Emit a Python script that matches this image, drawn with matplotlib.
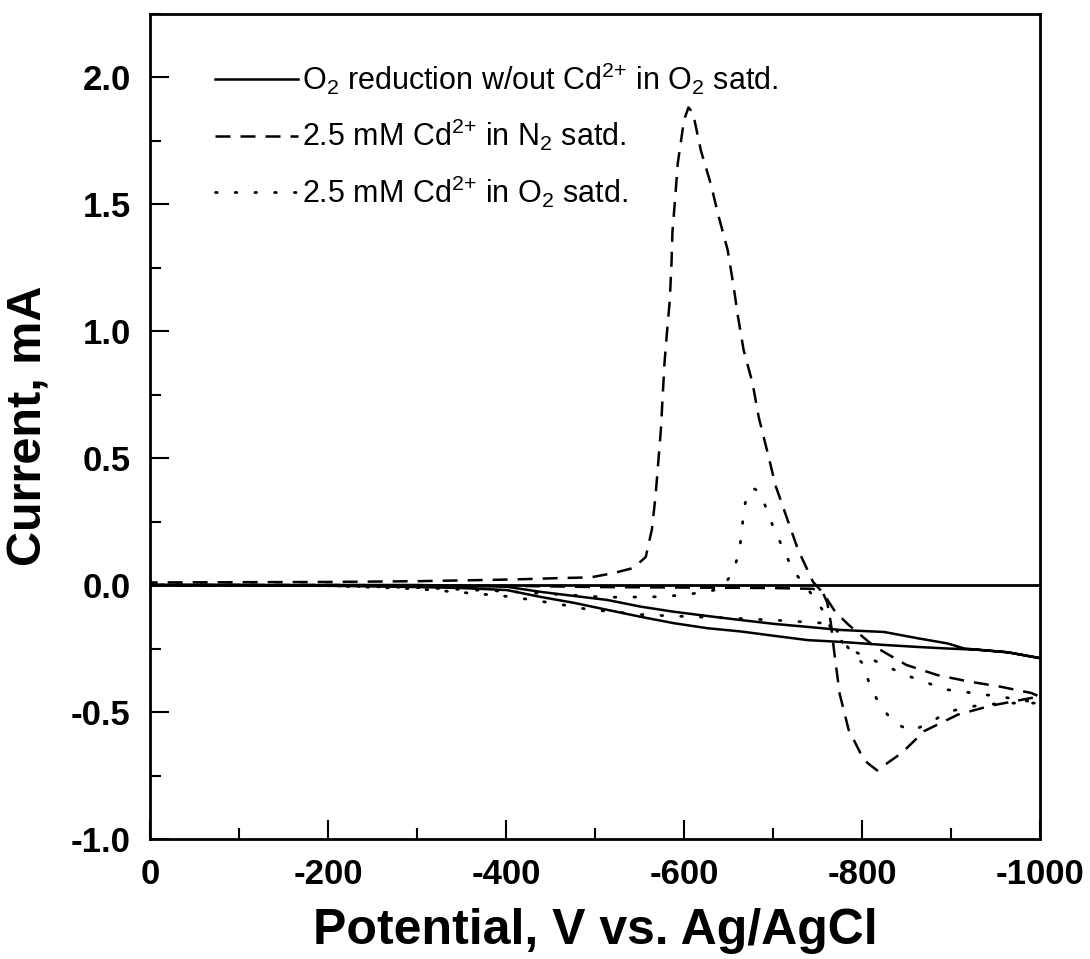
import matplotlib
matplotlib.use("Agg")
import matplotlib.pyplot as plt
from matplotlib.ticker import MultipleLocator

plt.rcParams['font.family'] = ['Liberation Sans', 'DejaVu Sans']
plt.rcParams['mathtext.fontset'] = 'custom'
plt.rcParams['mathtext.rm'] = 'Liberation Sans'
plt.rcParams['mathtext.it'] = 'Liberation Sans'
plt.rcParams['axes.unicode_minus'] = False

# O2 reduction without Cd2+ (forward then reverse scan), mV / mA
v_o2 = [0, -100, -200, -300, -350, -401, -439, -476, -514, -551, -588, -626, -664,
        -701, -739, -776, -825, -863, -896, -930, -964, -1000,
        -964, -915, -896, -863, -825, -776, -739, -701, -664, -626, -588, -551,
        -514, -476, -439, -401, -350, -300, -200, 0]
i_o2 = [0, 0, -0.003, -0.008, -0.012, -0.02, -0.047, -0.07, -0.098, -0.125, -0.15, -0.17, -0.183,
        -0.20, -0.217, -0.224, -0.236, -0.244, -0.25, -0.255, -0.265, -0.288,
        -0.265, -0.25, -0.23, -0.21, -0.185, -0.177, -0.165, -0.153, -0.138, -0.122, -0.105, -0.085,
        -0.059, -0.043, -0.027, -0.007, -0.003, 0, 0, 0]

# 2.5 mM Cd2+ in N2 saturated
v_n2 = [0, -200, -400, -500, -600, -700, -745, -756, -761, -765, -769, -775, -785, -798,
        -806, -817, -845, -870, -908, -945, -990, -1000,
        -990, -955, -920, -885, -850, -813, -785, -770, -756, -745, -728, -716, -703, -694,
        -684, -677, -667, -660, -656, -649, -639, -630, -619, -610, -605, -600, -593, -590,
        -587, -586, -584, -581, -578, -576, -574, -571, -568, -564, -557, -543, -521, -495,
        -458, -420, -382, -300, -200, 0]
i_n2 = [0, 0, -0.003, -0.008, -0.01, -0.012, -0.015, -0.03, -0.07, -0.15, -0.27, -0.43, -0.57, -0.66,
        -0.70, -0.73, -0.66, -0.575, -0.51, -0.475, -0.445, -0.44,
        -0.425, -0.40, -0.38, -0.355, -0.315, -0.24, -0.157, -0.106, -0.03, 0.012, 0.14, 0.26, 0.39, 0.52,
        0.66, 0.795, 0.925, 1.07, 1.17, 1.32, 1.45, 1.58, 1.71, 1.86, 1.88, 1.83, 1.66, 1.52,
        1.39, 1.27, 1.12, 1.0, 0.87, 0.74, 0.61, 0.48, 0.35, 0.22, 0.11, 0.067, 0.047, 0.03,
        0.027, 0.023, 0.02, 0.015, 0.012, 0.01]

# 2.5 mM Cd2+ in O2 saturated
v_cd_o2 = [0, -200, -300, -370, -408, -429, -450, -472, -495, -523, -543, -587, -650, -700,
           -757, -772, -784, -801, -808, -818, -835, -855, -875, -896, -920, -940, -970, -1000,
           -956, -934, -913, -891, -870, -849, -828, -806, -784, -765, -756, -740, -722, -712,
           -701, -694, -684, -678, -671, -667, -665, -662, -655, -645, -639, -619, -596, -576,
           -553, -532, -512, -450, -400, -300, -200, 0]
i_cd_o2 = [0, -0.003, -0.015, -0.035, -0.047, -0.059, -0.07, -0.083, -0.098, -0.105, -0.115, -0.122, -0.13, -0.138,
           -0.15, -0.18, -0.245, -0.31, -0.385, -0.46, -0.54, -0.575, -0.545, -0.5, -0.48, -0.47, -0.465, -0.465,
           -0.44, -0.43, -0.42, -0.41, -0.38, -0.355, -0.32, -0.285, -0.25, -0.17, -0.1, -0.02, 0.06, 0.14,
           0.22, 0.29, 0.37, 0.38, 0.36, 0.29, 0.21, 0.13, 0.05, 0.0, -0.017, -0.03, -0.04, -0.046,
           -0.047, -0.048, -0.048, -0.035, -0.025, -0.01, -0.003, 0]

labels = [r'O$_2$ reduction w/out Cd$^{2{+}}$ in O$_2$ satd.',
          r'2.5 mM Cd$^{2{+}}$ in N$_2$ satd.',
          r'2.5 mM Cd$^{2{+}}$ in O$_2$ satd.']

fig = plt.figure(figsize=(10.9, 9.59), dpi=100)
ax = fig.add_axes([150 / 1090, 1 - 839 / 959, 890 / 1090, (839 - 13.5) / 959])

ax.axhline(0, color='black', lw=2.0, zorder=1)
ax.plot(v_o2, i_o2, color='black', lw=1.8, ls='-', label=labels[0])
ax.plot(v_n2, i_n2, color='black', lw=1.8, ls=(0, (6, 4)), label=labels[1])
ax.plot(v_cd_o2, i_cd_o2, color='black', lw=2.0, ls=(0, (0.6, 6.5)),
        dash_capstyle='round', label=labels[2])

ax.set_xlim(0, -1000)
ax.set_ylim(-1.0, 2.25)
ax.xaxis.set_major_locator(MultipleLocator(200))
ax.xaxis.set_minor_locator(MultipleLocator(100))
ax.yaxis.set_major_locator(MultipleLocator(0.5))
ax.yaxis.set_minor_locator(MultipleLocator(0.25))
ax.xaxis.set_major_formatter(plt.FuncFormatter(lambda v, p: f'{v:.0f}'))
ax.yaxis.set_major_formatter(plt.FuncFormatter(lambda v, p: f'{v:.1f}'))

ax.tick_params(which='both', direction='in', top=False, right=False, width=1.5)
ax.tick_params(which='major', length=14, labelsize=25, pad=14)
ax.tick_params(which='minor', length=8)
for lab in ax.get_xticklabels() + ax.get_yticklabels():
    lab.set_fontweight('bold')
for s in ax.spines.values():
    s.set_linewidth(2.0)

ax.set_xlabel('Potential, V vs. Ag/AgCl', fontsize=36, fontweight='bold', labelpad=12)
ax.set_ylabel('Current, mA', fontsize=35, fontweight='bold', labelpad=14)

ax.legend(loc='upper left', bbox_to_anchor=(0.056, 0.962), frameon=False, fontsize=22,
          handlelength=2.7, handletextpad=0.15, labelspacing=0.67, borderpad=0)

fig.savefig('out.png', dpi=100)
